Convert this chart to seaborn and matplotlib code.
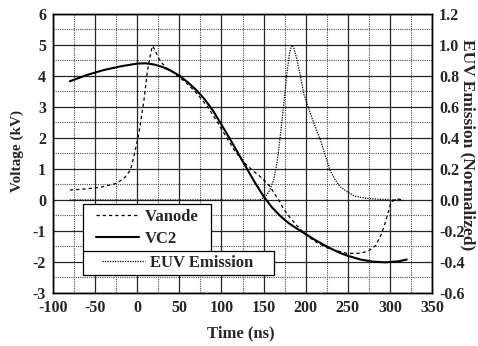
import numpy as np
import pandas as pd
import matplotlib
matplotlib.use("Agg")
import matplotlib.pyplot as plt
import seaborn as sns
from matplotlib.legend_handler import HandlerLine2D
from matplotlib.ticker import FormatStrFormatter

# values
t_vanode = [-80, -60, -44, -24, -15, -8, -4, 2, 8, 12, 15, 18, 21, 24, 28, 35, 45, 55, 65, 75,
            85, 95, 105, 115, 125, 135, 145, 152, 158, 163, 168, 174, 180, 190, 200, 213, 229,
            249, 265, 275, 283, 290, 294, 298, 301, 305, 310, 316]
vanode = [0.32, 0.36, 0.41, 0.54, 0.72, 0.97, 1.4, 2.15, 3.23, 4.14, 4.6, 4.97, 4.85, 4.65, 4.45,
          4.26, 4.06, 3.85, 3.60, 3.30, 2.95, 2.52, 2.06, 1.62, 1.26, 1.00, 0.78, 0.60, 0.42, 0.20,
          0.0, -0.30, -0.52, -0.84, -1.12, -1.37, -1.58, -1.72, -1.72, -1.64, -1.47, -1.10, -0.77,
          -0.40, -0.10, 0.0, 0.03, 0.0]

t_vc2 = [-80, -60, -40, -20, 0, 10, 20, 30, 40, 50, 60, 70, 80, 90, 100, 110, 120, 130, 140, 150,
         160, 170, 180, 190, 200, 210, 225, 240, 250, 265, 280, 295, 310, 320]
vc2 = [3.83, 4.03, 4.19, 4.31, 4.40, 4.41, 4.37, 4.29, 4.17, 4.01, 3.80, 3.55, 3.25, 2.88, 2.43,
       1.97, 1.50, 1.02, 0.55, 0.12, -0.24, -0.52, -0.75, -0.93, -1.10, -1.27, -1.50, -1.70, -1.80,
       -1.92, -1.99, -2.01, -1.98, -1.92]

t_euv = [-80, -40, 0, 40, 80, 120, 145, 152, 157, 162, 166, 170, 174, 178, 181, 183.5, 186, 189,
         193, 198, 203, 208, 213, 218, 223, 229, 235, 241, 250, 258, 270, 285, 300, 315]
euv = [0.0, 0.0, 0.0, 0.0, 0.0, 0.0, 0.0, 0.02, 0.06, 0.13, 0.24, 0.42, 0.62, 0.83, 0.95, 1.0,
       0.98, 0.92, 0.82, 0.68, 0.60, 0.52, 0.45, 0.38, 0.29, 0.19, 0.13, 0.085, 0.05, 0.025,
       0.012, 0.005, 0.002, 0.0]

x_ticks = [-100, -50, 0, 50, 100, 150, 200, 250, 300, 350]
v_ticks = [-3, -2, -1, 0, 1, 2, 3, 4, 5, 6]
euv_ticks = [-0.6, -0.4, -0.2, 0.0, 0.2, 0.4, 0.6, 0.8, 1.0, 1.2]

sns.set_style("white")
plt.rcParams['font.family'] = ['Liberation Serif', 'DejaVu Serif']
plt.rcParams['font.weight'] = 'bold'
plt.rcParams['axes.unicode_minus'] = False

fig = plt.figure(figsize=(4.78, 3.46), dpi=100)
ax = fig.add_axes([0.1109, 0.1532, 0.7929, 0.8064])
ax2 = ax.twinx()

sns.lineplot(x=t_vanode, y=vanode, ax=ax, color='black', linewidth=0.9,
             linestyle=(0, (2.6, 2.4)))
l_va = ax.lines[-1]
sns.lineplot(x=t_vc2, y=vc2, ax=ax, color='black', linewidth=1.5)
l_vc = ax.lines[-1]
sns.lineplot(x=t_euv, y=euv, ax=ax2, color='black', linewidth=0.9, linestyle=(0, (1, 1)))
l_euv = ax2.lines[-1]

ax.set_xlim(-100, 350)
ax.set_ylim(-3, 6)
ax2.set_ylim(-0.6, 1.2)
ax.set_xticks(x_ticks)
ax.set_xticks(np.arange(-75, 350, 50), minor=True)
ax.set_yticks(v_ticks)
ax.set_yticks(np.arange(-2.5, 6, 1.0), minor=True)
ax2.set_yticks(euv_ticks)
ax2.yaxis.set_major_formatter(FormatStrFormatter('%.1f'))

ax.grid(which='major', color='0.15', linewidth=0.9)
ax.grid(which='minor', color='0.3', linewidth=0.8, linestyle=(0, (1, 1)))
ax.set_axisbelow(True)

for a in (ax, ax2):
    a.tick_params(which='both', length=0, pad=5, labelsize=11.5)
    for s in a.spines.values():
        s.set_color('black')
        s.set_linewidth(1.0)
for lab in ax.get_xticklabels() + ax.get_yticklabels() + ax2.get_yticklabels():
    lab.set_fontweight('bold')

ax.set_xlabel('Time (ns)', fontsize=12, fontweight='bold')
ax.set_ylabel('Voltage (kV)', fontsize=11, fontweight='bold')
ax2.set_ylabel('EUV Emission (Normalized)', fontsize=12.5, fontweight='bold', rotation=270)
for lab in (ax.xaxis.label, ax.yaxis.label, ax2.yaxis.label):
    lab.set_ha('center')
    lab.set_va('center')
ax.xaxis.set_label_coords(0.496, -0.143)
ax.yaxis.set_label_coords(-0.095, 0.509)
ax2.yaxis.set_label_coords(1.093, 0.53)

leg_kw = dict(loc='upper left', borderaxespad=0, fancybox=False, framealpha=1,
              edgecolor='black', prop={'weight': 'bold', 'size': 12})
leg1 = ax2.legend([l_va, l_vc], ['Vanode  ', 'VC2'], bbox_to_anchor=(0.0792, 0.319),
                  borderpad=0.3, handlelength=3.06, handletextpad=0.36, labelspacing=0.38,
                  handler_map={l_va: HandlerLine2D(xpad=0.48), l_vc: HandlerLine2D(xpad=0.48)},
                  **leg_kw)
leg1.get_frame().set_linewidth(0.9)
leg1.set_zorder(10)
ax2.add_artist(leg1)
leg2 = ax2.legend([l_euv], ['EUV Emission    '], bbox_to_anchor=(0.0792, 0.1505),
                  borderpad=0.25, handlelength=3.48, handletextpad=0.3,
                  handler_map={l_euv: HandlerLine2D(xpad=0.9)}, **leg_kw)
leg2.get_frame().set_linewidth(0.9)
leg2.set_zorder(11)

fig.savefig('out.png', dpi=100)
